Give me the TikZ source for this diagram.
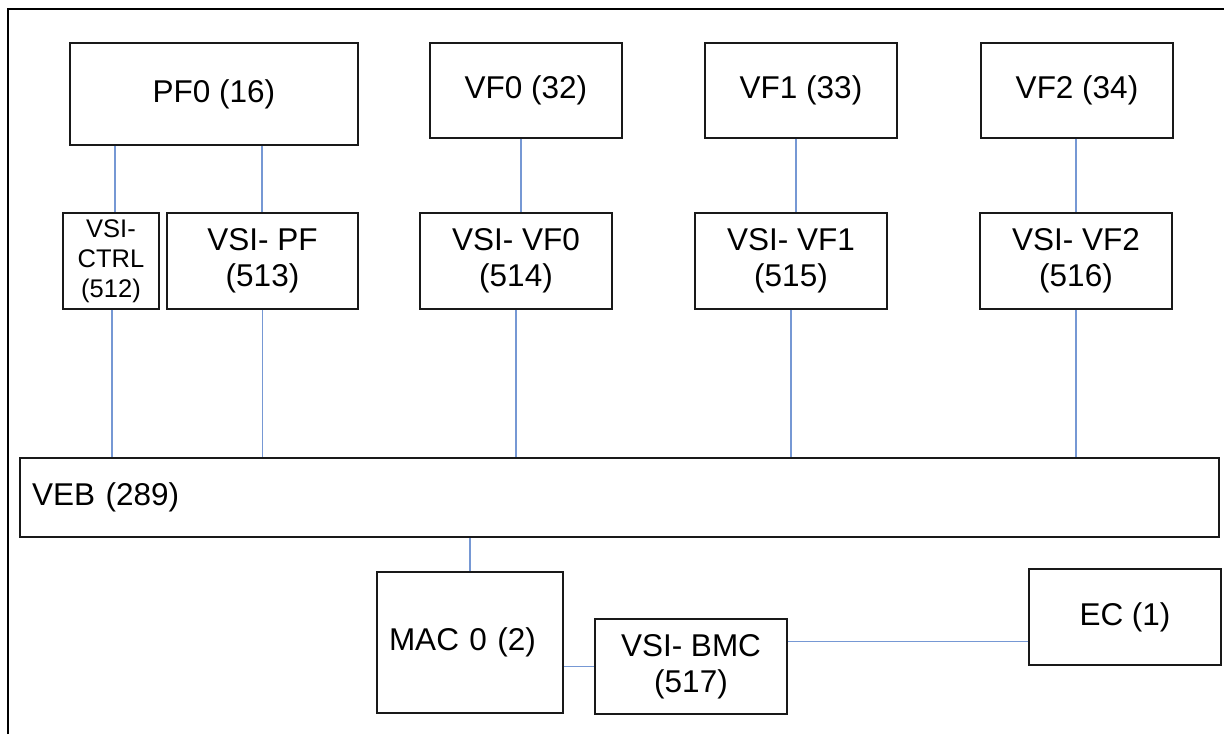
\documentclass[tikz,border=0pt]{standalone}
\usepackage{fontspec}
\setmainfont{Liberation Sans}
\definecolor{linkblue}{RGB}{118,152,212}
\definecolor{boxline}{RGB}{25,25,25}
\begin{document}
\begin{tikzpicture}[x=1pt,y=-1pt,
  box/.style={draw=boxline, line width=1.6pt, fill=white, inner sep=0pt, align=center,
    font=\fontsize{31.5}{36}\selectfont},
  smallbox/.style={box, font=\fontsize{25.5}{30}\selectfont},
  leftbox/.style={box, align=left, inner xsep=12pt},
  link/.style={draw=linkblue, line width=1.2pt},
  frame/.style={draw=black, line width=2.2pt}]
\useasboundingbox (0,0) rectangle (1224,734);
\draw[frame] (8,734) -- (8,9) -- (1224,9);

% top row
\node[box, minimum width=288pt, minimum height=102pt] (pf0) at (214,94) {PF0 (16)};
\node[box, minimum width=192pt, minimum height=95pt] (vf0) at (526,90.5) {VF0 (32)};
\node[box, minimum width=192pt, minimum height=95pt] (vf1) at (801,90.5) {VF1 (33)};
\node[box, minimum width=192pt, minimum height=95pt] (vf2) at (1077,90.5) {VF2 (34)};

% VSI row
\node[smallbox, minimum width=96pt, minimum height=96pt] (ctrl) at (111,261) {VSI-\\CTRL\\(512)};
\node[box, minimum width=191pt, minimum height=96pt] (vsipf) at (262.5,261) {VSI- PF\\(513)};
\node[box, minimum width=192pt, minimum height=96pt] (vsivf0) at (516,261) {VSI- VF0\\(514)};
\node[box, minimum width=192pt, minimum height=96pt] (vsivf1) at (791,261) {VSI- VF1\\(515)};
\node[box, minimum width=192pt, minimum height=96pt] (vsivf2) at (1076,261) {VSI- VF2\\(516)};

% VEB
\node[leftbox, minimum width=1199pt, minimum height=79pt, text width=1175pt] (veb) at (619.5,497.5) {VEB (289)};

% bottom
\node[leftbox, minimum width=186pt, minimum height=141pt, text width=162pt] (mac) at (470,642.5) {MAC 0 (2)};
\node[box, minimum width=192pt, minimum height=95pt] (bmc) at (691,666.5) {VSI- BMC\\(517)};
\node[box, minimum width=192pt, minimum height=96pt] (ec) at (1125,617) {EC (1)};

% connectors: functions to VSIs
\draw[link] ([xshift=-99pt]pf0.south) coordinate (p1) -- (p1 |- ctrl.north);
\draw[link] ([xshift=48pt]pf0.south) coordinate (p2) -- (p2 |- vsipf.north);
\draw[link] ([xshift=-5pt]vf0.south) coordinate (p3) -- (p3 |- vsivf0.north);
\draw[link] ([xshift=-5pt]vf1.south) coordinate (p4) -- (p4 |- vsivf1.north);
\draw[link] ([xshift=-1pt]vf2.south) coordinate (p5) -- (p5 |- vsivf2.north);

% VSIs to VEB
\draw[link] ([xshift=1pt]ctrl.south) coordinate (q1) -- (q1 |- veb.north);
\draw[link] (vsipf.south) -- (vsipf.south |- veb.north);
\draw[link] (vsivf0.south) -- (vsivf0.south |- veb.north);
\draw[link] (vsivf1.south) -- (vsivf1.south |- veb.north);
\draw[link] (vsivf2.south) -- (vsivf2.south |- veb.north);

% VEB to MAC, MAC to BMC, BMC to EC
\draw[link] (mac.north) -- (mac.north |- veb.south);
\draw[link] (bmc.west) -- (bmc.west -| mac.east);
\draw[link] ([yshift=-23pt]bmc.north east) coordinate (r1) -- (r1 -| ec.west);
\end{tikzpicture}
\end{document}
